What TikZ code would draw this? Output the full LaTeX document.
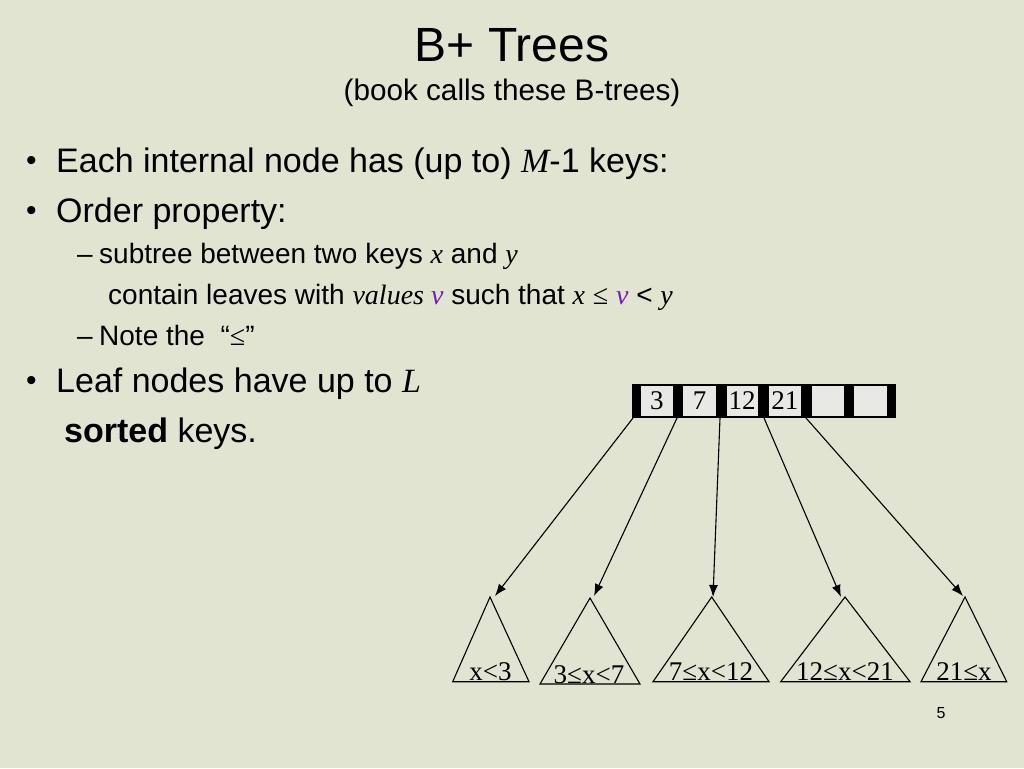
\documentclass[tikz,border=0pt]{standalone}
\usepackage{fontspec}
\setmainfont{Liberation Sans}
\newfontfamily\tms{Liberation Serif}
\usetikzlibrary{arrows.meta}
\definecolor{bg}{RGB}{225,228,209}
\definecolor{vio}{RGB}{120,30,180}
\definecolor{cellfill}{RGB}{232,232,228}
\begin{document}
\begin{tikzpicture}[x=1pt,y=-1pt,
  txt/.style={inner sep=0pt, anchor=base west},
  tri/.style={draw=black, line width=1.1pt, line join=miter},
  ptr/.style={draw=black, line width=1.1pt, -{Latex[length=12pt,width=9pt]}},
  cell/.style={fill=cellfill, draw=black, line width=0.6pt, inner sep=0pt, minimum height=31.5pt},
  lbl/.style={inner sep=0pt, anchor=base, font=\tms\fontsize{27}{30}\selectfont},
  big/.style={font=\fontsize{34}{40}\selectfont},
  small/.style={font=\fontsize{28}{34}\selectfont},
  dot/.style={inner sep=0pt, anchor=base west, font=\fontsize{30}{34}\selectfont},
  ]
\fill[bg] (0,0) rectangle (1024,768);
\useasboundingbox (0,0) rectangle (1024,768);

% title
\node[inner sep=0pt, anchor=base] (title) at (512,62) {\fontsize{48}{56}\selectfont B+ Trees};
\node[inner sep=0pt, anchor=base] (subtitle) at (512,100) {\fontsize{29.7}{34}\selectfont (book calls these B-trees)};

% bullets
\node[dot] (p1) at (26,170) {•};
\node[txt, big] (l1) at (56,172) {Each internal node has (up to) {\tms\itshape M}-1 keys:};
\node[dot] (p2) at (26,220) {•};
\node[txt, big] (l2) at (56,222) {Order property:};
\node[txt, small] (d1) at (77,263) {–};
\node[txt, small] (l3) at (99,263) {subtree between two keys {\tms\itshape x} and {\tms\itshape y}};
\node[txt, small] (l4) at (108,304) {contain leaves with {\tms\itshape values \textcolor{vio}{v}} such that {\tms\itshape x} {\tms ≤} {\tms\itshape\textcolor{vio}{v}} < {\tms\itshape y}};
\node[txt, small] (d2) at (77,345) {–};
\node[txt, small] (l5) at (99,345) {Note the \ “{\tms ≤}”};
\node[dot] (p3) at (26,390) {•};
\node[txt, big] (l6) at (56,392) {Leaf nodes have up to {\tms\itshape L}};
\node[txt, big] (l7) at (64,442) {\bfseries sorted\mdseries\ keys.};

% internal node array
\node[fill=black, inner sep=0pt, minimum width=264.5pt, minimum height=34.5pt] (arr) at (763.75,400.75) {};
\node[cell, minimum width=32.3pt] (c1) at (656.85,400.75) {\tms\fontsize{27}{30}\selectfont 3};
\node[cell, minimum width=34pt]   (c2) at (699.7,400.75) {\tms\fontsize{27}{30}\selectfont 7};
\node[cell, minimum width=32pt]   (c3) at (742,400.75) {\tms\fontsize{27}{30}\selectfont 12};
\node[cell, minimum width=33.7pt] (c4) at (784.85,400.75) {\tms\fontsize{27}{30}\selectfont 21};
\node[cell, minimum width=32.3pt] (c5) at (827.85,400.75) {};
\node[cell, minimum width=34pt]   (c6) at (870,400.75) {};

% pointer starts
\coordinate (s1) at (633,418);
\coordinate (s2) at (677,418);
\coordinate (s3) at (720,418);
\coordinate (s4) at (764,418);
\coordinate (s5) at (806,418);
% arrow tips
\coordinate (a1) at (495,596);
\coordinate (a2) at (594,596);
\coordinate (a3) at (713,597);
\coordinate (a4) at (841,597);
\coordinate (a5) at (963,596);

% subtrees
\coordinate (t1) at (490,597);
\coordinate (t2) at (590,598);
\coordinate (t3) at (711.7,597);
\coordinate (t4) at (845,597);
\coordinate (t5) at (965,597);
\draw[tri] (t1) -- (452.7,681.7) -- (529,681.7) -- cycle;
\draw[tri] (t2) -- (540,684) -- (640,684) -- cycle;
\draw[tri] (t3) -- (653,681.7) -- (769,681.7) -- cycle;
\draw[tri] (t4) -- (780.7,681.7) -- (910,681.7) -- cycle;
\draw[tri] (t5) -- (921,681.7) -- (1006.7,681.7) -- cycle;

\node[lbl] (k1) at (490.5,680.5) {x<3};
\node[lbl] (k2) at (589,683) {3≤x<7};
\node[lbl] (k3) at (711,680.5) {7≤x<12};
\node[lbl] (k4) at (845,680.5) {12≤x<21};
\node[lbl] (k5) at (964,680.5) {21≤x};

\draw[ptr] (s1) -- (a1);
\draw[ptr] (s2) -- (a2);
\draw[ptr] (s3) -- (a3);
\draw[ptr] (s4) -- (a4);
\draw[ptr] (s5) -- (a5);

\node[inner sep=0pt, anchor=base] (pg) at (941,718) {\fontsize{16}{18}\selectfont 5};
\end{tikzpicture}
\end{document}
